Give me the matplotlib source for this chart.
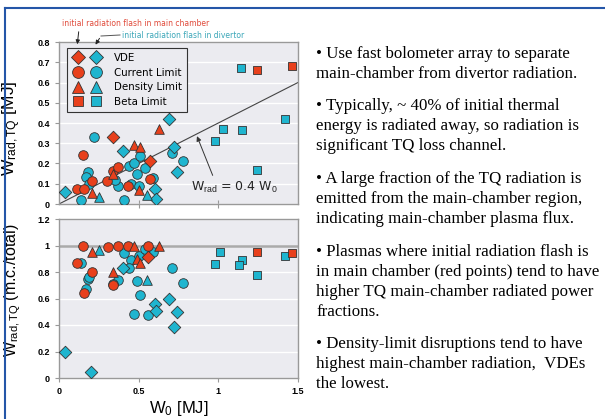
import matplotlib.pyplot as plt
from matplotlib.lines import Line2D
from matplotlib.patches import FancyArrowPatch
from matplotlib.legend_handler import HandlerTuple

RED = "#e8401c"
CYAN = "#1fb5cf"

# upper panel: W_rad,TQ [MJ] vs W0 [MJ]
top_vde_red_x = [0.34, 0.57]
top_vde_red_y = [0.33, 0.21]
top_vde_cyan_x = [0.04, 0.40, 0.69, 0.72, 0.74, 0.60, 0.61]
top_vde_cyan_y = [0.06, 0.26, 0.42, 0.28, 0.16, 0.075, 0.025]
top_cur_red_x = [0.15, 0.11, 0.16, 0.21, 0.30, 0.34, 0.37, 0.43, 0.57]
top_cur_red_y = [0.24, 0.075, 0.075, 0.115, 0.115, 0.165, 0.185, 0.09, 0.125]
top_cur_cyan_x = [0.22, 0.18, 0.17, 0.19, 0.14, 0.41, 0.37, 0.44, 0.47, 0.51,
                  0.49, 0.54, 0.59, 0.45, 0.50, 0.71, 0.78, 0.35]
top_cur_cyan_y = [0.33, 0.16, 0.135, 0.10, 0.02, 0.02, 0.09, 0.19, 0.20, 0.235,
                  0.15, 0.18, 0.13, 0.10, 0.09, 0.25, 0.21, 0.12]
top_den_red_x = [0.63, 0.47, 0.51, 0.34, 0.21, 0.50]
top_den_red_y = [0.37, 0.29, 0.28, 0.15, 0.055, 0.07]
top_den_cyan_x = [0.25, 0.55]
top_den_cyan_y = [0.036, 0.044]
top_beta_red_x = [1.24, 1.46]
top_beta_red_y = [0.66, 0.68]
top_beta_cyan_x = [1.14, 0.98, 1.03, 1.15, 1.24, 1.42]
top_beta_cyan_y = [0.67, 0.31, 0.37, 0.365, 0.17, 0.42]

# lower panel: main-chamber fraction vs W0 [MJ]
bot_vde_red_x = [0.56]
bot_vde_red_y = [0.915]
bot_vde_cyan_x = [0.04, 0.20, 0.40, 0.60, 0.61, 0.69, 0.74, 0.72]
bot_vde_cyan_y = [0.20, 0.045, 0.83, 0.555, 0.505, 0.60, 0.50, 0.385]
bot_cur_red_x = [0.15, 0.11, 0.21, 0.16, 0.31, 0.37, 0.43, 0.56, 0.34]
bot_cur_red_y = [1.00, 0.87, 0.80, 0.64, 0.985, 1.00, 1.00, 0.995, 0.70]
bot_cur_cyan_x = [0.14, 0.18, 0.17, 0.19, 0.41, 0.45, 0.50, 0.44, 0.37, 0.34,
                  0.49, 0.51, 0.47, 0.56, 0.59, 0.54, 0.71, 0.78]
bot_cur_cyan_y = [0.87, 0.75, 0.67, 0.765, 0.94, 0.89, 0.92, 0.83, 0.74, 0.71,
                  0.73, 0.63, 0.48, 0.475, 0.95, 0.97, 0.83, 0.72]
bot_den_red_x = [0.21, 0.34, 0.47, 0.63, 0.49, 0.51]
bot_den_red_y = [0.95, 0.80, 1.00, 1.00, 0.90, 0.87]
bot_den_cyan_x = [0.25, 0.55]
bot_den_cyan_y = [0.965, 0.74]
bot_beta_red_x = [1.24, 1.46]
bot_beta_red_y = [0.95, 0.94]
bot_beta_cyan_x = [1.01, 0.98, 1.15, 1.13, 1.24, 1.42]
bot_beta_cyan_y = [0.95, 0.86, 0.89, 0.85, 0.78, 0.92]

legend_labels = ["VDE", "Current Limit", "Density Limit", "Beta Limit"]
line_x = [0, 1.5]
slope = 0.4

bullets = [
    ["\u2022 Use fast bolometer array to separate",
     "main-chamber from divertor radiation."],
    ["\u2022 Typically, ~ 40% of initial thermal",
     "energy is radiated away, so radiation is",
     "significant TQ loss channel."],
    ["\u2022 A large fraction of the TQ radiation is",
     "emitted from the main-chamber region,",
     "indicating main-chamber plasma flux."],
    ["\u2022 Plasmas where initial radiation flash is",
     "in main chamber (red points) tend to have",
     "higher TQ main-chamber radiated power",
     "fractions."],
    ["\u2022 Density-limit disruptions tend to have",
     "highest main-chamber radiation,  VDEs",
     "the lowest."],
]

plt.rcParams["mathtext.fontset"] = "custom"
plt.rcParams["mathtext.rm"] = "Liberation Sans"
plt.rcParams["mathtext.it"] = "Liberation Sans"

W, H = 605, 419
fig = plt.figure(figsize=(W / 100, H / 100), dpi=100)
fig.patch.set_facecolor("white")

ax1 = fig.add_axes([59 / W, 1 - 204 / H, 239 / W, 162 / H])
ax2 = fig.add_axes([59 / W, 1 - 378 / H, 239 / W, 159 / H])

S = 48
kw = dict(edgecolors="#333333", linewidths=0.6, zorder=3)


def draw(ax, data):
    for (x, y, m, c) in data:
        size = S * 0.85 if m in ("s", "D") else S
        ax.scatter(x, y, marker=m, s=size, c=c, **kw)


draw(ax1, [
    (top_cur_cyan_x, top_cur_cyan_y, "o", CYAN),
    (top_cur_red_x, top_cur_red_y, "o", RED),
    (top_vde_cyan_x, top_vde_cyan_y, "D", CYAN),
    (top_vde_red_x, top_vde_red_y, "D", RED),
    (top_den_cyan_x, top_den_cyan_y, "^", CYAN),
    (top_den_red_x, top_den_red_y, "^", RED),
    (top_beta_cyan_x, top_beta_cyan_y, "s", CYAN),
    (top_beta_red_x, top_beta_red_y, "s", RED),
])
draw(ax2, [
    (bot_cur_cyan_x, bot_cur_cyan_y, "o", CYAN),
    (bot_cur_red_x, bot_cur_red_y, "o", RED),
    (bot_vde_cyan_x, bot_vde_cyan_y, "D", CYAN),
    (bot_vde_red_x, bot_vde_red_y, "D", RED),
    (bot_den_cyan_x, bot_den_cyan_y, "^", CYAN),
    (bot_den_red_x, bot_den_red_y, "^", RED),
    (bot_beta_cyan_x, bot_beta_cyan_y, "s", CYAN),
    (bot_beta_red_x, bot_beta_red_y, "s", RED),
])

ax1.plot(line_x, [slope * v for v in line_x], color="#444444", lw=0.8, zorder=2)
ax2.axhline(1.0, color="#aaaaaa", lw=1.8, zorder=1)

for ax in (ax1, ax2):
    ax.set_facecolor("#ebebf0")
    ax.set_xlim(0, 1.5)
    ax.grid(axis="y", color="white", lw=1.0)
    ax.set_axisbelow(True)
    for sp in ax.spines.values():
        sp.set_color("#999999")
        sp.set_linewidth(1.0)
    ax.tick_params(colors="#999999", labelcolor="black", labelsize=6.5,
                   length=3, width=0.8)

tick_font = dict(fontweight="bold", fontsize=6.5, family="Liberation Sans")
ax1.set_ylim(0, 0.8)
ax1.set_yticks([0, 0.1, 0.2, 0.3, 0.4, 0.5, 0.6, 0.7, 0.8])
ax1.set_yticklabels(["0", "0.1", "0.2", "0.3", "0.4", "0.5", "0.6", "0.7", "0.8"],
                    **tick_font)
ax1.set_xticks([0.5, 1.0])
ax1.tick_params(axis="x", labelbottom=False, direction="inout", length=6)

ax2.set_ylim(0, 1.2)
ax2.set_yticks([0, 0.2, 0.4, 0.6, 0.8, 1.0, 1.2])
ax2.set_yticklabels(["0", "0.2", "0.4", "0.6", "0.8", "1", "1.2"], **tick_font)
ax2.set_xticks([0, 0.5, 1.0, 1.5])
ax2.set_xticklabels(["0", "0.5", "1", "1.5"], **tick_font)

ax1.set_ylabel(r"W$_{\rm rad,TQ}$ [MJ]", fontsize=12.5, family="Liberation Sans")
ax2.set_ylabel(r"W$_{\rm rad,TQ}$ (m.c./total)", fontsize=11.5, family="Liberation Sans")
ax2.set_xlabel(r"W$_0$ [MJ]", fontsize=12, family="Liberation Sans")
ax1.yaxis.set_label_coords(-0.15, 0.47)
ax2.yaxis.set_label_coords(-0.15, 0.55)
ax2.xaxis.set_label_coords(0.5, -0.135)

# legend with red + cyan marker per category
handles = []
for m in ["D", "o", "^", "s"]:
    ms = 7.5 if m in ("D", "s") else 8.5
    h_red = Line2D([], [], marker=m, ls="", color=RED, mec="#333333", mew=0.6, ms=ms)
    h_cy = Line2D([], [], marker=m, ls="", color=CYAN, mec="#333333", mew=0.6, ms=ms)
    handles.append((h_red, h_cy))
leg = ax1.legend(handles, legend_labels,
                 handler_map={tuple: HandlerTuple(ndivide=None, pad=0.7)},
                 loc="upper left", bbox_to_anchor=(0.012, 0.995), fontsize=7.4,
                 frameon=True, fancybox=False, edgecolor="#333333",
                 facecolor="#ebebf0", framealpha=1, handlelength=2.8,
                 handletextpad=1.3, borderpad=0.5, labelspacing=0.45)
leg.get_frame().set_linewidth(0.8)

ax1.annotate(r"W$_{\rm rad}$ = 0.4 W$_0$", xy=(0.866, 0.335), xytext=(1.1, 0.084),
             fontsize=9, ha="center", va="center", color="#222222",
             arrowprops=dict(arrowstyle="-|>", color="#333333", lw=0.7,
                             mutation_scale=7, shrinkA=1, shrinkB=0,
                             relpos=(0.27, 1.0)))

# flash annotations above the upper panel
fig.text(62 / W, 1 - 24 / H, "initial radiation flash in main chamber",
         fontsize=5.5, color="#e04a3a", va="center", ha="left")
fig.text(122 / W, 1 - 35 / H, "initial radiation flash in divertor",
         fontsize=5.5, color="#3aa6b8", va="center", ha="left")
fig.add_artist(FancyArrowPatch(
    (79 / W, 1 - 29 / H), (77 / W, 1 - 47 / H), transform=fig.transFigure,
    arrowstyle="-|>", mutation_scale=6, color="#222222", lw=0.7))
fig.add_artist(Line2D([120 / W, 101 / W], [1 - 35 / H, 1 - 36 / H],
                      transform=fig.transFigure, color="#555555", lw=0.7))
fig.add_artist(FancyArrowPatch(
    (101 / W, 1 - 36 / H), (94 / W, 1 - 47 / H), transform=fig.transFigure,
    arrowstyle="-|>", mutation_scale=6, color="#222222", lw=0.7))

# slide frame
fig.add_artist(Line2D([5 / W, 1], [1 - 8 / H, 1 - 8 / H], transform=fig.transFigure,
                      color="#2456a8", lw=1.5))
fig.add_artist(Line2D([5 / W, 5 / W], [0, 1 - 8 / H], transform=fig.transFigure,
                      color="#2456a8", lw=1.5))

# bullet text on the right
y = 54
for para in bullets:
    for line in para:
        fig.text(316 / W, 1 - y / H, line, fontsize=12.2, family="Liberation Serif",
                 va="center", ha="left")
        y += 20
    y += 12.5

fig.savefig("out.png", dpi=100)
